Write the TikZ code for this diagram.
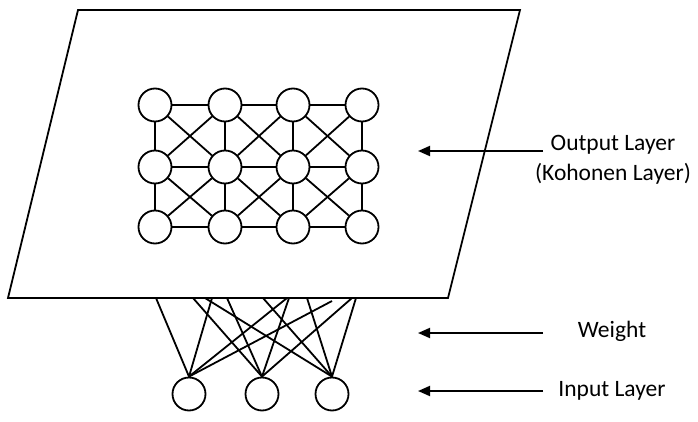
\documentclass[tikz,border=0pt]{standalone}
\usepackage{fontspec}
\setmainfont{Carlito}
\usetikzlibrary{arrows.meta}
\begin{document}
\begin{tikzpicture}[x=1pt,y=-1pt,line width=1.8pt,
  neuron/.style={circle,draw,line width=1.8pt,minimum size=33pt,inner sep=0pt},
  lbl/.style={font=\fontsize{23.5}{30}\selectfont,inner sep=0pt,align=center},
  pointer/.style={-{Triangle[length=12pt,width=10pt]},line width=1.8pt}]
\useasboundingbox (0,0) rectangle (698,422);
% output layer plane
\coordinate (tl) at (78,10);
\coordinate (tr) at (520,10);
\coordinate (br) at (448,298);
\coordinate (bl) at (8,298);
\draw[line join=miter] (tl) -- (tr) -- (br) -- (bl) -- cycle;
% Kohonen grid
\foreach \c/\x in {1/155,2/225,3/293,4/362}{
  \foreach \r/\y in {1/105,2/167,3/227}{
    \node[neuron] (g\r\c) at (\x,\y) {};
  }
}
\foreach \r in {1,2,3}{
  \draw (g\r1) -- (g\r2) -- (g\r3) -- (g\r4);
}
\foreach \c in {1,2,3,4}{
  \draw (g1\c) -- (g2\c) -- (g3\c);
}
\foreach \r/\rr in {1/2,2/3}{
  \foreach \c/\cc in {1/2,2/3,3/4}{
    \draw (g\r\c) -- (g\rr\cc);
    \draw (g\r\cc) -- (g\rr\c);
  }
}
% input layer
\node[neuron] (i1) at (189,394) {};
\node[neuron] (i2) at (262,394) {};
\node[neuron] (i3) at (332,394) {};
% weights
\coordinate (w11) at (156,298);
\coordinate (w12) at (212,298);
\coordinate (w13) at (287,298);
\coordinate (w14) at (332,301);
\coordinate (w21) at (193,298);
\coordinate (w22) at (227,298);
\coordinate (w23) at (289,298);
\coordinate (w24) at (352,298);
\coordinate (w31) at (205,298);
\coordinate (w32) at (263,298);
\coordinate (w33) at (307,298);
\coordinate (w34) at (356,298);
\foreach \i in {1,2,3}{
  \foreach \k in {1,2,3,4}{
    \draw (i\i.north) -- (w\i\k);
  }
}
% labels
\node[lbl] (outlbl) at (613,160) {Output Layer\\(Kohonen Layer)};
\node[lbl] (wlbl) at (612,331) {Weight};
\node[lbl] (inlbl) at (612,391) {Input Layer};
\coordinate (a1s) at (543,151);
\coordinate (a1e) at (418,151);
\coordinate (a2s) at (543,333);
\coordinate (a2e) at (418,333);
\coordinate (a3s) at (543,391);
\coordinate (a3e) at (418,391);
\draw[pointer] (a1s) -- (a1e);
\draw[pointer] (a2s) -- (a2e);
\draw[pointer] (a3s) -- (a3e);
\end{tikzpicture}
\end{document}
